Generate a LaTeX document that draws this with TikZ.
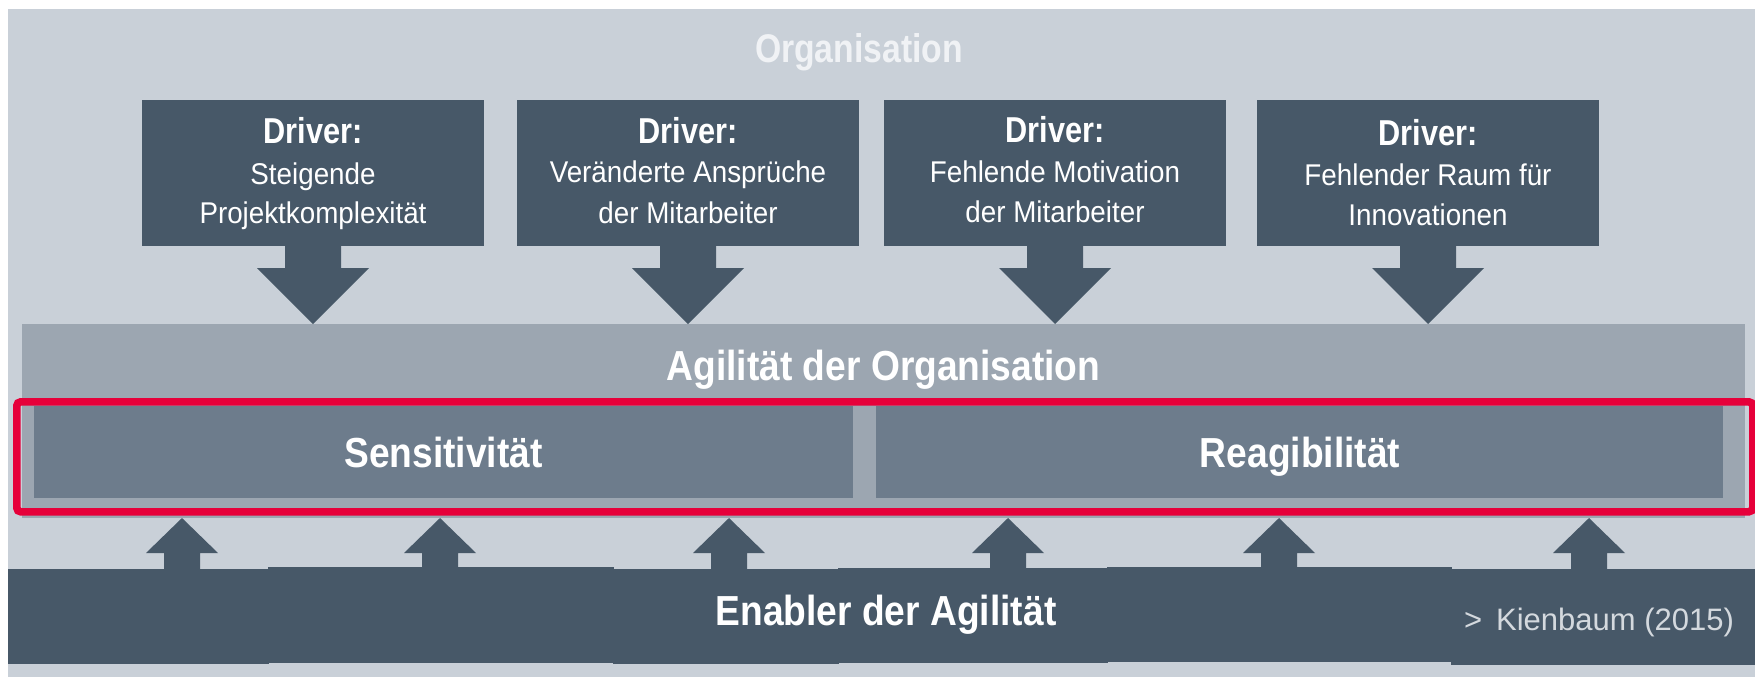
\documentclass[tikz,border=0pt]{standalone}
\usepackage{fontspec}
\setmainfont{Liberation Sans}
\newfontfamily\fdrv{Liberation Sans}[FakeStretch=0.853]
\newfontfamily\fline{Liberation Sans}[FakeStretch=0.926]
\newfontfamily\fhead{Liberation Sans}[FakeStretch=0.885]
\newfontfamily\forg{Liberation Sans}[FakeStretch=0.843]
\usetikzlibrary{calc}
\definecolor{bgGray}{RGB}{201,208,216}
\definecolor{darkBlue}{RGB}{71,88,104}
\definecolor{midGray}{RGB}{156,166,177}
\definecolor{boxGray}{RGB}{109,124,140}
\definecolor{redBox}{RGB}{230,0,58}
\definecolor{orgText}{RGB}{240,242,245}
\definecolor{srcText}{RGB}{212,217,222}
\tikzset{
  panel/.style={fill=#1, draw=none, inner sep=0pt, outer sep=0pt, anchor=north west},
  drvpanel/.style={panel=darkBlue, minimum width=171pt, minimum height=73pt},
  lbl/.style={inner sep=0pt, outer sep=0pt, anchor=base, text=white},
  drvtitle/.style={lbl, font=\fdrv\bfseries\fontsize{18pt}{20pt}\selectfont},
  drvline/.style={lbl, font=\fline\fontsize{15pt}{17pt}\selectfont},
  heading/.style={lbl, font=\fhead\bfseries\fontsize{21pt}{24pt}\selectfont},
  orgtitle/.style={lbl, text=orgText, font=\forg\bfseries\fontsize{20pt}{24pt}\selectfont},
  srcnote/.style={inner sep=0pt, outer sep=0pt, anchor=base east, text=srcText, font=\fontsize{15.5pt}{18pt}\selectfont},
  blockarrow/.style={fill=darkBlue, draw=none},
  focusframe/.style={draw=redBox, line width=3.8pt, rounded corners=2pt, inner sep=0pt, anchor=north west},
}
\begin{document}
\begin{tikzpicture}[x=0.5pt,y=-0.5pt]
\useasboundingbox (0,0) rectangle (1755,677);
% background
\fill[bgGray] (8,9) rectangle (1755,677);
\node[orgtitle] (org) at (859,62) {Organisation};

% agility band
\node[panel=midGray, minimum width=861.5pt, minimum height=97pt] (agil) at (22,324) {};
\node[heading] (agiltext) at (883.5,380) {Agilität der Organisation};

% sensitivity / reactivity
\node[panel=boxGray, minimum width=409.5pt, minimum height=46pt] (sens) at (34,406) {};
\node[panel=boxGray, minimum width=423.5pt, minimum height=46pt] (reag) at (876,406) {};
\node[heading] (senstext) at (443.5,467) {Sensitivität};
\node[heading] (reagtext) at (1300,467) {Reagibilität};

% red frame
\node[focusframe, minimum width=868pt, minimum height=55pt] (focus) at (13,398) {};

% drivers
\node[drvpanel] (d1) at (142,100) {};
\node[drvpanel] (d2) at (517,100) {};
\node[drvpanel] (d3) at (884,100) {};
\node[drvpanel] (d4) at (1257,100) {};

\node[drvtitle] (d1a) at ($(d1.north)+(0,43)$) {Driver:};
\node[drvline]  (d1b) at ($(d1.north)+(0,84)$) {Steigende};
\node[drvline]  (d1c) at ($(d1.north)+(0,123)$) {Projektkomplexität};

\node[drvtitle] (d2a) at ($(d2.north)+(0,43)$) {Driver:};
\node[drvline]  (d2b) at ($(d2.north)+(0,82)$) {Veränderte Ansprüche};
\node[drvline]  (d2c) at ($(d2.north)+(0,123)$) {der Mitarbeiter};

\node[drvtitle] (d3a) at ($(d3.north)+(0,42)$) {Driver:};
\node[drvline]  (d3b) at ($(d3.north)+(0,82)$) {Fehlende Motivation};
\node[drvline]  (d3c) at ($(d3.north)+(0,122)$) {der Mitarbeiter};

\node[drvtitle] (d4a) at ($(d4.north)+(0,45)$) {Driver:};
\node[drvline]  (d4b) at ($(d4.north)+(0,85)$) {Fehlender Raum für};
\node[drvline]  (d4c) at ($(d4.north)+(0,125)$) {Innovationen};

% down block arrows from drivers into the agility band
\foreach \d in {d1,d2,d3,d4}{
  \fill[blockarrow] ($(\d.south)+(-28,-1)$) -- ($(\d.south)+(28,-1)$) -- ($(\d.south)+(28,22)$)
    -- ($(\d.south)+(56,22)$) -- ($(\d.south |- agil.north)$) -- ($(\d.south)+(-56,22)$)
    -- ($(\d.south)+(-28,22)$) -- cycle;
}

% enabler band (slightly offset segments)
\fill[darkBlue] (8,569) rectangle (269,664);
\fill[darkBlue] (268,567) rectangle (614,663);
\fill[darkBlue] (613,569) rectangle (839,664);
\fill[darkBlue] (838,568) rectangle (1108,663);
\fill[darkBlue] (1107,567) rectangle (1452,662);
\fill[darkBlue] (1451,569) rectangle (1755,665);
\coordinate (enab) at (886,615);

% up block arrows from enabler band
\coordinate (u1) at (182,518);
\coordinate (u2) at (440,518);
\coordinate (u3) at (729,518);
\coordinate (u4) at (1008,518);
\coordinate (u5) at (1279,518);
\coordinate (u6) at (1589,518);
\foreach \u in {u1,u2,u3,u4,u5,u6}{
  \fill[blockarrow] (\u) -- ($(\u)+(36,35)$) -- ($(\u)+(18,35)$) -- ($(\u)+(18,52)$)
    -- ($(\u)+(-18,52)$) -- ($(\u)+(-18,35)$) -- ($(\u)+(-36,35)$) -- cycle;
}

\node[heading] (enabtext) at (886,625) {Enabler der Agilität};
\node[srcnote] (src) at (1734,630) {>\hspace{0.45em}Kienbaum (2015)};
\end{tikzpicture}
\end{document}
